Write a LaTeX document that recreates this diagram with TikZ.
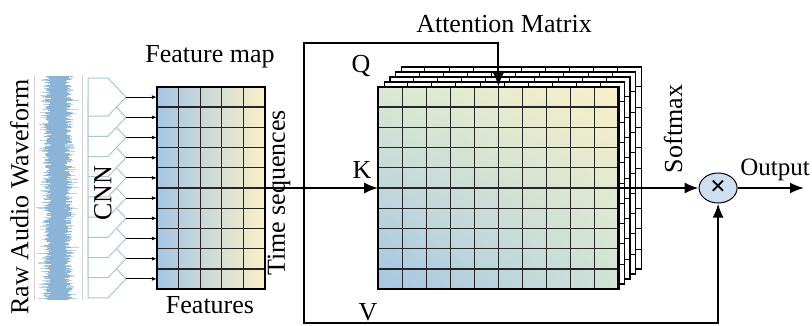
\documentclass[tikz,border=0pt]{standalone}
\usepackage{fontspec}
\setmainfont{Liberation Serif}
\usepackage{tikz}
\usetikzlibrary{arrows.meta,positioning,shapes.geometric,calc,shadings}
\definecolor{waveblue}{RGB}{140,180,215}
\definecolor{wavelight}{RGB}{188,212,232}
\definecolor{cnnline}{RGB}{165,200,212}
\definecolor{mapblue}{RGB}{165,198,228}
\definecolor{mapgreen}{RGB}{214,232,212}
\definecolor{mapyellow}{RGB}{250,240,200}
\definecolor{multfill}{RGB}{205,223,241}
\pgfdeclarelayer{background}
\pgfsetlayers{background,main}

\begin{document}
\begin{tikzpicture}[
  x=1pt, y=-1pt,
  lbl/.style={inner sep=0pt,font=\fontsize{26}{31}\selectfont},
  cell/.style={line width=1.2pt,draw=black!85},
  border/.style={draw,line width=2.4pt},
  mapbox/.style={minimum height=202pt,inner sep=0pt},
  layer/.style={draw,line width=1.2pt,fill=white,minimum width=240pt,
    minimum height=202pt,inner sep=0pt},
  multnode/.style={ellipse,draw,line width=1pt,fill=multfill,
    minimum width=38pt,minimum height=30pt,inner sep=0pt,
    font=\fontsize{28}{28}\selectfont\bfseries},
  conn/.style={line width=2pt},
  arrow/.style={conn,-{Latex[length=14pt,width=11pt]}},
  tiny/.style={line width=0.9pt,-{Latex[length=5pt,width=4pt]}},
  cnn/.style={draw=cnnline,line width=1pt,fill=white}
]
\useasboundingbox (0,0) rectangle (812,325);

% raw waveform
\draw[gray!35,line width=0.8pt] (34,75) -- (34,300) (82,75) -- (82,300);
\pgfmathsetseed{11}
\foreach \i in {0,...,298}{
  \pgfmathsetmacro{\yy}{76+0.75*\i}
  \pgfmathsetmacro{\wl}{7+7*rnd}
  \pgfmathsetmacro{\wr}{7+7*rnd}
  \pgfmathsetmacro{\sl}{rnd}
  \pgfmathsetmacro{\sr}{rnd}
  \pgfmathsetmacro{\el}{\wl+8*\sl*\sl*\sl}
  \pgfmathsetmacro{\er}{\wr+8*\sr*\sr*\sr}
  \draw[wavelight,line width=0.7pt] (58-\el,\yy) -- (58+\er,\yy);
  \draw[waveblue,line width=0.7pt] (58-\wl,\yy) -- (58+\wr,\yy);
}
\node[lbl,rotate=90] (wave) at (19.5,197) {Raw Audio Waveform};

% CNN
\foreach \row in {9,8,...,0}{
  \pgfmathsetmacro{\cy}{87+20.2*(\row+0.5)}
  \draw[cnn] (88,\cy-19) -- (108,\cy-19) -- (126,\cy) -- (108,\cy+19)
    -- (88,\cy+19) -- cycle;
  \coordinate (cnn\row) at (126,\cy);
}
\node[lbl,rotate=90] (cnnlbl) at (103,193) {CNN};

% feature map
\node[mapbox,minimum width=108pt,left color=mapblue,middle color=mapgreen,
  right color=mapyellow] (fmap) at (211,188) {};
\foreach \col in {1,...,4}
  \draw[cell] ($(fmap.north west)!\col/5!(fmap.north east)$)
    -- ($(fmap.south west)!\col/5!(fmap.south east)$);
\foreach \row in {1,...,9}
  \draw[cell] ($(fmap.north west)!\row/10!(fmap.south west)$)
    -- ($(fmap.north east)!\row/10!(fmap.south east)$);
\draw[border] (fmap.north west) rectangle (fmap.south east);
\foreach \row in {0,...,9}
  \draw[tiny] (cnn\row) -- (cnn\row -| fmap.west);
\node[lbl,anchor=base] (fmaplbl) at (210,62) {Feature map};
\node[lbl,anchor=base] (featlbl) at (210,313) {Features};
\node[lbl,rotate=90] (tseq) at (279,193) {Time sequences};

% attention matrix
\node[mapbox,minimum width=240pt,right=113pt of fmap,
  lower left=mapblue,upper right=mapyellow,upper left=mapgreen!90!mapyellow,
  lower right=mapgreen!85!mapblue] (attn) {};
\begin{pgfonlayer}{background}
\foreach \k in {4,3,2,1}{
  \node[layer] (lay\k) at ($(attn)+(5.75*\k,-5*\k)$) {};
  \foreach \col in {1,...,9}
    \draw[line width=1pt] ($(lay\k.north west)!\col/10!(lay\k.north east)$)
      -- ($(lay\k.south west)!\col/10!(lay\k.south east)$);
  \foreach \row in {1,...,9}
    \draw[line width=1pt] ($(lay\k.north west)!\row/10!(lay\k.south west)$)
      -- ($(lay\k.north east)!\row/10!(lay\k.south east)$);
}
\end{pgfonlayer}
\foreach \col in {1,...,9}
  \draw[cell] ($(attn.north west)!\col/10!(attn.north east)$)
    -- ($(attn.south west)!\col/10!(attn.south east)$);
\foreach \row in {1,...,9}
  \draw[cell] ($(attn.north west)!\row/10!(attn.south west)$)
    -- ($(attn.north east)!\row/10!(attn.south east)$);
\draw[border] (attn.north west) rectangle (attn.south east);
\node[lbl,anchor=base] (attnlbl) at (504,32) {Attention Matrix};

% multiply and output
\node[multnode,right=80pt of attn] (mult) {×};
\coordinate (out) at (804,188);
\node[lbl,anchor=base,font=\fontsize{25}{30}\selectfont] (outlbl)
  at (775,175) {Output};
\node[lbl,rotate=90] (smax) at (673,129) {Softmax};

% Q, K, V
\coordinate (qv) at (304,188);
\coordinate (qtop) at (304,43);
\coordinate (vbot) at (304,323);
\draw[arrow] (fmap.east) -- (attn.west);
\draw[arrow] (qv) -- (qtop) -| (attn.north);
\draw[arrow] (qv) -- (vbot) -| (mult.south);
\draw[arrow] (attn.east) -- (mult.west);
\draw[arrow] (mult.east) -- (out);
\node[lbl,anchor=base] (qlbl) at (361,72) {Q};
\node[lbl,anchor=base] (klbl) at (362,178) {K};
\node[lbl,anchor=base] (vlbl) at (368,320) {V};
\end{tikzpicture}
\end{document}
